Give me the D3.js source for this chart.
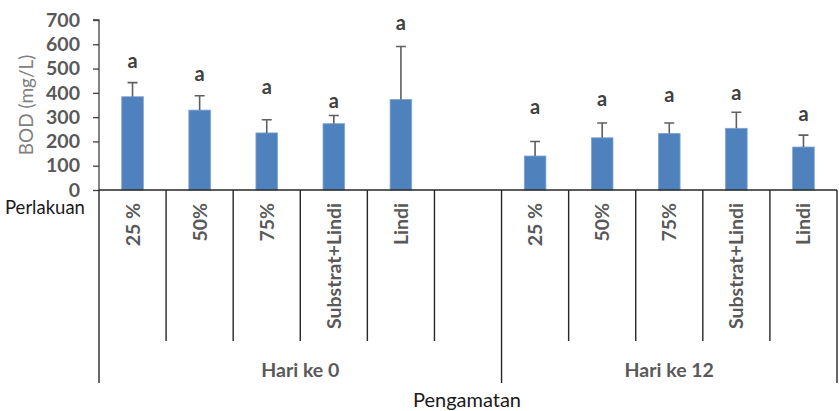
<!DOCTYPE html>
<html>
<head>
<meta charset="utf-8">
<script src="https://cdn.jsdelivr.net/npm/d3@7"></script>
<style>
  html, body { margin: 0; padding: 0; background: #fff; }
  svg { display: block; }
  text { font-family: Lato, "Open Sans", sans-serif; }
</style>
</head>
<body>
<svg id="chart" width="839" height="411"></svg>
<script>
// BOD per treatment, two observation days
const groups = ["Hari ke 0", "Hari ke 12"];
const treatments = ["25 %", "50%", "75%", "Substrat+Lindi", "Lindi"];
const bodDay0 = [384, 329, 235, 273, 373];
const bodDay12 = [140, 215, 233, 254, 177];
const errDay0 = [58, 59, 54, 34, 218];
const errDay12 = [60, 61, 43, 66, 49];
// significance letters and the BOD level they sit at
const lettersDay0 = ["a", "a", "a", "a", "a"];
const lettersDay12 = ["a", "a", "a", "a", "a"];
const letterLevelDay0 = [523, 470, 416, 358, 679];
const letterLevelDay12 = [333, 366, 384, 391, 305];
const yTicks = [0, 100, 200, 300, 400, 500, 600, 700];

const svg = d3.select("#chart");
const plotLeft = 99, plotRight = 837, plotTop = 20, base = 190;
const innerBottom = 341, outerBottom = 383;

// slots: group 0 has its five treatments plus one blank slot, group 1 has five
const slots = [];
treatments.forEach((t, i) => slots.push({ g: 0, name: t, v: bodDay0[i], e: errDay0[i], l: lettersDay0[i], ly: letterLevelDay0[i] }));
slots.push({ g: 0, name: "", v: null });
treatments.forEach((t, i) => slots.push({ g: 1, name: t, v: bodDay12[i], e: errDay12[i], l: lettersDay12[i], ly: letterLevelDay12[i] }));

const x = d3.scaleBand().domain(d3.range(slots.length)).range([plotLeft, plotRight]).paddingInner(0).paddingOuter(0);
const y = d3.scaleLinear().domain([0, 700]).range([base, plotTop]);
const barW = x.bandwidth() * 0.322;

// y axis
const yAxis = d3.axisLeft(y).tickValues(yTicks).tickSize(6).tickPadding(13).tickFormat(d3.format("d"));
const gy = svg.append("g").attr("transform", `translate(${plotLeft},0)`).call(yAxis);
gy.select(".domain").attr("stroke", "#3f3f3f").attr("stroke-width", 1.3).attr("d", `M-6,${plotTop}H0V${base}`);
gy.selectAll(".tick line").attr("stroke", "#3f3f3f").attr("stroke-width", 1.3);
gy.selectAll(".tick text").attr("fill", "#595959").attr("font-size", 19.5).attr("font-weight", 700)
  .style("font-family", "Lato, sans-serif");

svg.append("text")
  .attr("transform", `translate(33,${(plotTop + base) / 2}) rotate(-90)`)
  .attr("text-anchor", "middle")
  .attr("fill", "#7f7f7f").attr("font-size", 19)
  .text("BOD (mg/L)");

// bars
const data = slots.map((s, i) => ({ ...s, i })).filter(s => s.v !== null);
svg.append("g").selectAll("rect").data(data).join("rect")
  .attr("x", d => x(d.i) + (x.bandwidth() - barW) / 2)
  .attr("y", d => y(d.v))
  .attr("width", barW)
  .attr("height", d => base - y(d.v))
  .attr("fill", "#4f81bd")
  .attr("stroke", "#7fa3d3").attr("stroke-width", 0.8);

// upward error bars
const eb = svg.append("g").attr("stroke", "#5f5f5f").attr("stroke-width", 1.6).attr("fill", "none");
eb.selectAll("path").data(data).join("path")
  .attr("d", d => {
    const cx = x(d.i) + x.bandwidth() / 2;
    return `M${cx},${y(d.v)}V${y(d.v + d.e)}M${cx - 5},${y(d.v + d.e)}H${cx + 5}`;
  });

// significance letters
svg.append("g").selectAll("text").data(data).join("text")
  .attr("x", d => x(d.i) + x.bandwidth() / 2)
  .attr("y", d => y(d.ly) + 5)
  .attr("text-anchor", "middle")
  .attr("fill", "#404040").attr("font-size", 20).attr("font-weight", 700)
  .text(d => d.l);

// category axis baseline
svg.append("line").attr("x1", plotLeft).attr("x2", plotRight).attr("y1", base).attr("y2", base)
  .attr("stroke", "#262626").attr("stroke-width", 1.4);

// slot dividers: group edges run down past the group labels
const cat = svg.append("g").attr("stroke", "#262626").attr("stroke-width", 1.4);
d3.range(slots.length + 1).forEach(k => {
  const xx = k < slots.length ? x(k) : plotRight;
  const isEdge = k === 0 || k === slots.length || slots[k].g !== slots[k - 1].g;
  cat.append("line").attr("x1", xx).attr("x2", xx).attr("y1", base).attr("y2", isEdge ? outerBottom : innerBottom);
});

// treatment labels, rotated
svg.append("g").selectAll("text").data(slots.map((s, i) => ({ ...s, i })).filter(s => s.name)).join("text")
  .attr("transform", d => `translate(${x(d.i) + x.bandwidth() / 2 + 7},203) rotate(-90)`)
  .attr("text-anchor", "end")
  .attr("fill", "#595959").attr("font-size", 19.5).attr("font-weight", 700)
  .text(d => d.name);

// group labels
groups.forEach((g, gi) => {
  const idx = slots.map((s, i) => i).filter(i => slots[i].g === gi);
  const x0 = x(idx[0]), x1 = x(idx[idx.length - 1]) + x.bandwidth();
  svg.append("text").attr("x", (x0 + x1) / 2).attr("y", 377)
    .attr("text-anchor", "middle")
    .attr("fill", "#595959").attr("font-size", 19.5).attr("font-weight", 700)
    .text(g);
});

svg.append("text").attr("x", 5).attr("y", 214)
  .attr("fill", "#1a1a1a").attr("font-size", 18.5)
  .text("Perlakuan");

svg.append("text").attr("x", 467).attr("y", 407)
  .attr("text-anchor", "middle")
  .attr("fill", "#1a1a1a").attr("font-size", 20)
  .text("Pengamatan");
</script>
</body>
</html>
